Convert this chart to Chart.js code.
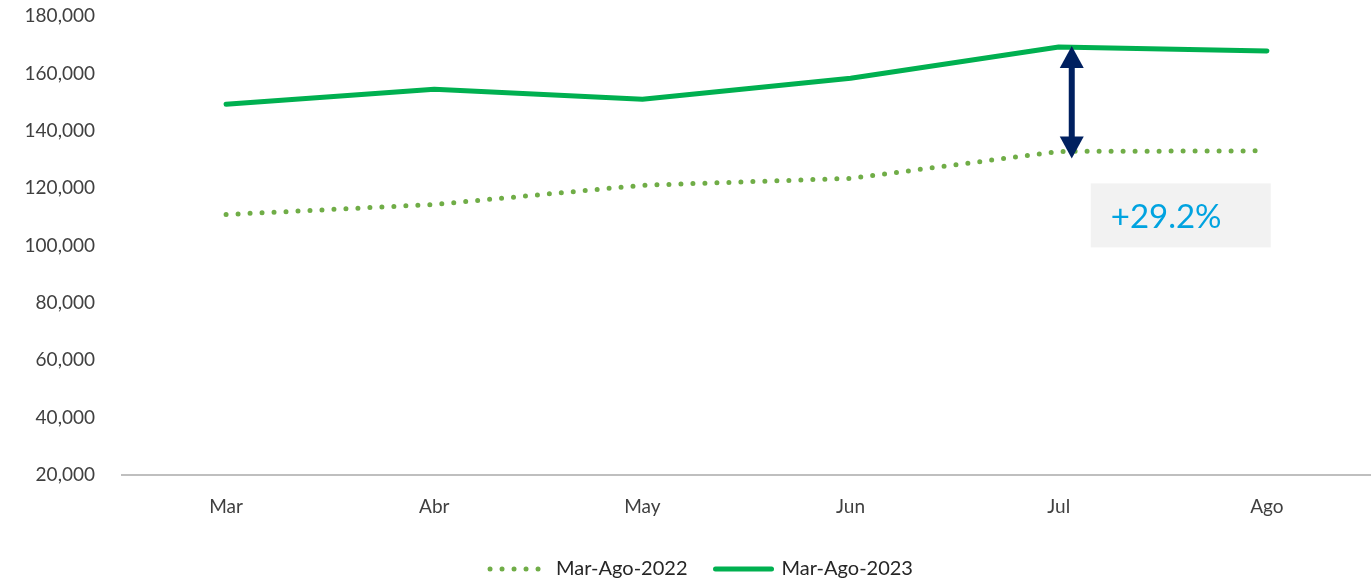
<!DOCTYPE html>
<html>
<head>
<meta charset="utf-8">
<script src="https://cdn.jsdelivr.net/npm/chart.js@4/dist/chart.umd.min.js"></script>
<style>
  html, body { margin: 0; padding: 0; background: #fff; }
  #wrap { width: 1371px; height: 581px; position: relative; }
</style>
</head>
<body>
<div id="wrap"><canvas id="chart"></canvas></div>
<script>
const months = ['Mar', 'Abr', 'May', 'Jun', 'Jul', 'Ago'];
const values2022 = [110800, 114300, 121000, 123400, 132800, 133000];
const values2023 = [149200, 154500, 151000, 158300, 169200, 167800];
const seriesNames = ['Mar-Ago-2022', 'Mar-Ago-2023'];
const changeLabel = '+29.2%';
const highlightIndex = 4;

const FONT = 'Lato, "Open Sans", sans-serif';

// double arrow between the two series at Jul + the grey box with the change
const gapNote = {
  id: 'gapNote',
  beforeLayout(chart) {
    // keep the legend strip short, the horizontal gap between items comes from labels.padding
    const lg = chart.legend;
    if (lg && !lg._patched) {
      const fit = lg.fit;
      lg.fit = function () { fit.call(this); this.height = 53; };
      lg._patched = true;
    }
  },
  afterLayout(chart) {
    // legend sits a bit right of centre and lower in the original
    const lg = chart.legend;
    lg.left += 16;
    lg.right += 16;
    lg.top += 3;
    lg.bottom += 3;
  },
  afterDatasetsDraw(chart) {
    const { ctx, scales: { x, y } } = chart;
    const ax = x.getPixelForValue(highlightIndex) + 13;
    const top = y.getPixelForValue(values2023[highlightIndex]) - 1;
    const bot = y.getPixelForValue(values2022[highlightIndex]) + 7;
    const headH = 22, headW = 12;
    ctx.save();
    ctx.fillStyle = '#002060';
    ctx.fillRect(ax - 3, top + headH - 2, 6, bot - top - 2 * headH + 4);
    ctx.beginPath();
    ctx.moveTo(ax, top);
    ctx.lineTo(ax + headW, top + headH);
    ctx.lineTo(ax - headW, top + headH);
    ctx.closePath();
    ctx.fill();
    ctx.beginPath();
    ctx.moveTo(ax, bot);
    ctx.lineTo(ax + headW, bot - headH);
    ctx.lineTo(ax - headW, bot - headH);
    ctx.closePath();
    ctx.fill();

    const bx = x.getPixelForValue(highlightIndex) + 32;
    const by = y.getPixelForValue(values2022[highlightIndex]) + 32;
    ctx.fillStyle = '#F2F2F2';
    ctx.fillRect(bx, by, 180, 64);
    ctx.fillStyle = '#00A3E0';
    ctx.font = '33px ' + FONT;
    ctx.textBaseline = 'middle';
    ctx.fillText(changeLabel, bx + 20, by + 34);
    ctx.restore();
  }
};

new Chart(document.getElementById('chart'), {
  type: 'line',
  data: {
    labels: months,
    datasets: [
      {
        label: seriesNames[0],
        data: values2022,
        borderColor: '#70AD47',
        backgroundColor: '#70AD47',
        borderWidth: 5,
        borderDash: [0, 12],
        borderCapStyle: 'round',
        pointRadius: 0,
        tension: 0,
        fill: false
      },
      {
        label: seriesNames[1],
        data: values2023,
        borderColor: '#00B050',
        backgroundColor: '#00B050',
        borderWidth: 5,
        borderCapStyle: 'round',
        borderJoinStyle: 'round',
        pointRadius: 0,
        tension: 0,
        fill: false
      }
    ]
  },
  options: {
    responsive: true,
    maintainAspectRatio: false,
    animation: false,
    layout: { padding: 0 },
    plugins: {
      tooltip: { enabled: false },
      legend: {
        position: 'bottom',
        labels: {
          color: '#262626',
          font: { family: FONT, size: 20 },
          usePointStyle: true,
          pointStyleWidth: 56,
          boxWidth: 56,
          boxHeight: 4,
          padding: 28,
          generateLabels(chart) {
            return chart.data.datasets.map((ds, i) => ({
              text: ds.label,
              datasetIndex: i,
              fillStyle: ds.borderColor,
              strokeStyle: ds.borderColor,
              lineWidth: 5,
              lineCap: 'round',
              lineDash: ds.borderDash || [],
              pointStyle: 'line',
              fontColor: '#262626',
              hidden: false
            }));
          }
        }
      }
    },
    scales: {
      x: {
        offset: true,
        grid: { display: false, drawTicks: false },
        border: { display: true, color: '#BFBFBF', width: 2 },
        afterFit(scale) { scale.height = 53; },
        ticks: { color: '#404040', font: { family: FONT, size: 19 }, padding: 20 }
      },
      y: {
        min: 20000,
        max: 180000,
        grid: { display: false, drawTicks: false },
        border: { display: false },
        afterFit(scale) {
          scale.width = 122;
          scale.paddingTop = 16;
          scale.paddingBottom = 11;
        },
        ticks: {
          stepSize: 20000,
          color: '#404040',
          padding: 27,
          font: { family: FONT, size: 19 },
          callback: v => v.toLocaleString('en-US')
        }
      }
    }
  },
  plugins: [gapNote]
});
</script>
</body>
</html>
